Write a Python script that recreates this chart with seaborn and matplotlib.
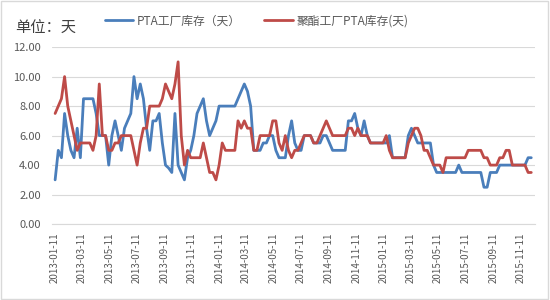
import matplotlib
matplotlib.use("Agg")
import matplotlib.pyplot as plt
import seaborn as sns
import pandas as pd
import numpy as np
from matplotlib.patches import Rectangle

# ---- data (weekly, starting 2013-01-11) ----
start_date = "2013-01-11"
series_names = ["PTA工厂库存（天）", "聚酯工厂PTA库存(天)"]

pta_factory = [
    3.0, 5.0, 4.5, 7.5, 6.0, 5.0, 4.5, 6.5, 4.5, 8.5,
    8.5, 8.5, 8.5, 7.5, 6.0, 6.0, 6.0, 4.0, 6.0, 7.0,
    6.0, 5.0, 6.5, 7.0, 7.5, 10.0, 8.5, 9.5, 8.5, 6.5,
    5.0, 7.0, 7.0, 7.5, 5.5, 4.0, 3.8, 3.5, 7.5, 4.0,
    3.5, 3.0, 4.5, 5.0, 6.0, 7.5, 8.0, 8.5, 7.0, 6.0,
    6.5, 7.0, 8.0, 8.0, 8.0, 8.0, 8.0, 8.0, 8.5, 9.0,
    9.5, 9.0, 8.0, 5.0, 5.0, 5.0, 5.5, 5.5, 6.0, 6.0,
    5.0, 4.5, 4.5, 4.5, 6.0, 7.0, 5.5, 5.0, 5.0, 6.0,
    6.0, 6.0, 5.5, 5.5, 5.5, 6.0, 6.0, 5.5, 5.0, 5.0,
    5.0, 5.0, 5.0, 7.0, 7.0, 7.5, 6.5, 6.0, 7.0, 6.0,
    5.5, 5.5, 5.5, 5.5, 5.5, 5.5, 6.0, 4.5, 4.5, 4.5,
    4.5, 4.5, 6.0, 6.5, 6.0, 5.5, 5.5, 5.5, 5.5, 5.5,
    4.0, 3.5, 3.5, 3.5, 3.5, 3.5, 3.5, 3.5, 4.0, 3.5,
    3.5, 3.5, 3.5, 3.5, 3.5, 3.5, 2.5, 2.5, 3.5, 3.5,
    3.5, 4.0, 4.0, 4.0, 4.0, 4.0, 4.0, 4.0, 4.0, 4.0,
    4.5, 4.5,
]

polyester_pta = [
    7.5, 8.0, 8.5, 10.0, 8.0, 7.0, 6.0, 5.0, 5.5, 5.5,
    5.5, 5.5, 5.0, 6.0, 9.5, 6.0, 6.0, 5.0, 5.0, 5.5,
    5.5, 6.0, 6.0, 6.0, 6.0, 5.0, 4.0, 5.5, 6.5, 6.5,
    8.0, 8.0, 8.0, 8.0, 8.5, 9.5, 9.0, 8.5, 9.5, 11.0,
    6.0, 4.0, 5.0, 4.5, 4.5, 4.5, 4.5, 5.5, 4.5, 3.5,
    3.5, 3.0, 4.0, 5.5, 5.0, 5.0, 5.0, 5.0, 7.0, 6.5,
    7.0, 6.5, 6.5, 5.0, 5.0, 6.0, 6.0, 6.0, 6.0, 7.0,
    7.0, 5.5, 5.0, 6.0, 5.0, 4.5, 5.0, 5.0, 5.5, 6.0,
    6.0, 6.0, 5.5, 5.5, 6.0, 6.5, 7.0, 6.5, 6.0, 6.0,
    6.0, 6.0, 6.0, 6.5, 6.5, 6.0, 6.5, 6.0, 6.0, 6.0,
    5.5, 5.5, 5.5, 5.5, 5.5, 6.0, 5.0, 4.5, 4.5, 4.5,
    4.5, 4.5, 5.5, 6.0, 6.5, 6.5, 6.0, 5.0, 5.0, 4.5,
    4.0, 4.0, 4.0, 3.5, 4.5, 4.5, 4.5, 4.5, 4.5, 4.5,
    4.5, 5.0, 5.0, 5.0, 5.0, 5.0, 4.5, 4.5, 4.0, 4.0,
    4.0, 4.5, 4.5, 5.0, 5.0, 4.0, 4.0, 4.0, 4.0, 4.0,
    3.5, 3.5,
]

tick_labels = [
    "2013-01-11", "2013-03-11", "2013-05-11", "2013-07-11", "2013-09-11",
    "2013-11-11", "2014-01-11", "2014-03-11", "2014-05-11", "2014-07-11",
    "2014-09-11", "2014-11-11", "2015-01-11", "2015-03-11", "2015-05-11",
    "2015-07-11", "2015-09-11", "2015-11-11",
]
y_ticks = [0, 2, 4, 6, 8, 10, 12]

# ---- build long-form table ----
dates = pd.date_range(start_date, periods=len(pta_factory), freq="7D")
df = pd.DataFrame({
    "date": np.concatenate([dates, dates]),
    "value": pta_factory + polyester_pta,
    "series": [series_names[0]] * len(pta_factory) + [series_names[1]] * len(polyester_pta),
})

sns.set_theme(style="white")
plt.rcParams["font.family"] = ["Noto Sans CJK SC", "DejaVu Sans"]

fig = plt.figure(figsize=(5.5, 3.0), dpi=100)
ax = fig.add_axes([0.0945, 0.253, 0.878, 0.59])

palette = {series_names[0]: "#4A7EBB", series_names[1]: "#BE4B48"}
sns.lineplot(data=df, x="date", y="value", hue="series", palette=palette,
             linewidth=2.0, ax=ax, legend=True)

ax.set_xlim(pd.Timestamp("2013-01-04"), pd.Timestamp("2015-12-12"))
ax.set_ylim(0, 12)
ax.set_yticks(y_ticks)
ax.set_yticklabels([f"{v:.2f}" for v in y_ticks], fontsize=8, color="#595959")
ax.yaxis.grid(True, color="#D9D9D9", linewidth=0.8)
ax.set_axisbelow(True)

tick_dates = pd.to_datetime(tick_labels)
ax.set_xticks(tick_dates)
ax.set_xticklabels(tick_labels, rotation=90, fontsize=7, color="#595959")
ax.tick_params(axis="x", direction="out", length=4, width=0.8, color="#D9D9D9", pad=2)
ax.tick_params(axis="y", length=0, pad=8)

for s in ["top", "right", "left"]:
    ax.spines[s].set_visible(False)
ax.spines["bottom"].set_color("#D9D9D9")
ax.spines["bottom"].set_linewidth(0.8)
ax.set_xlabel("")
ax.set_ylabel("")

leg = ax.legend(loc="lower left", bbox_to_anchor=(0.1, 1.085), ncol=2, frameon=False,
                fontsize=8.5, handlelength=2.4, columnspacing=2.0, handletextpad=0.3,
                borderaxespad=0)
for t in leg.get_texts():
    t.set_color("#595959")

fig.text(0.028, 0.905, "单位：天", fontsize=11, color="#404040", ha="left", va="center")

fig.patches.append(Rectangle((0.002, 0.003), 0.995, 0.993, transform=fig.transFigure,
                             fill=False, edgecolor="#D9D9D9", linewidth=1.0))

fig.savefig("out.png", dpi=100)
